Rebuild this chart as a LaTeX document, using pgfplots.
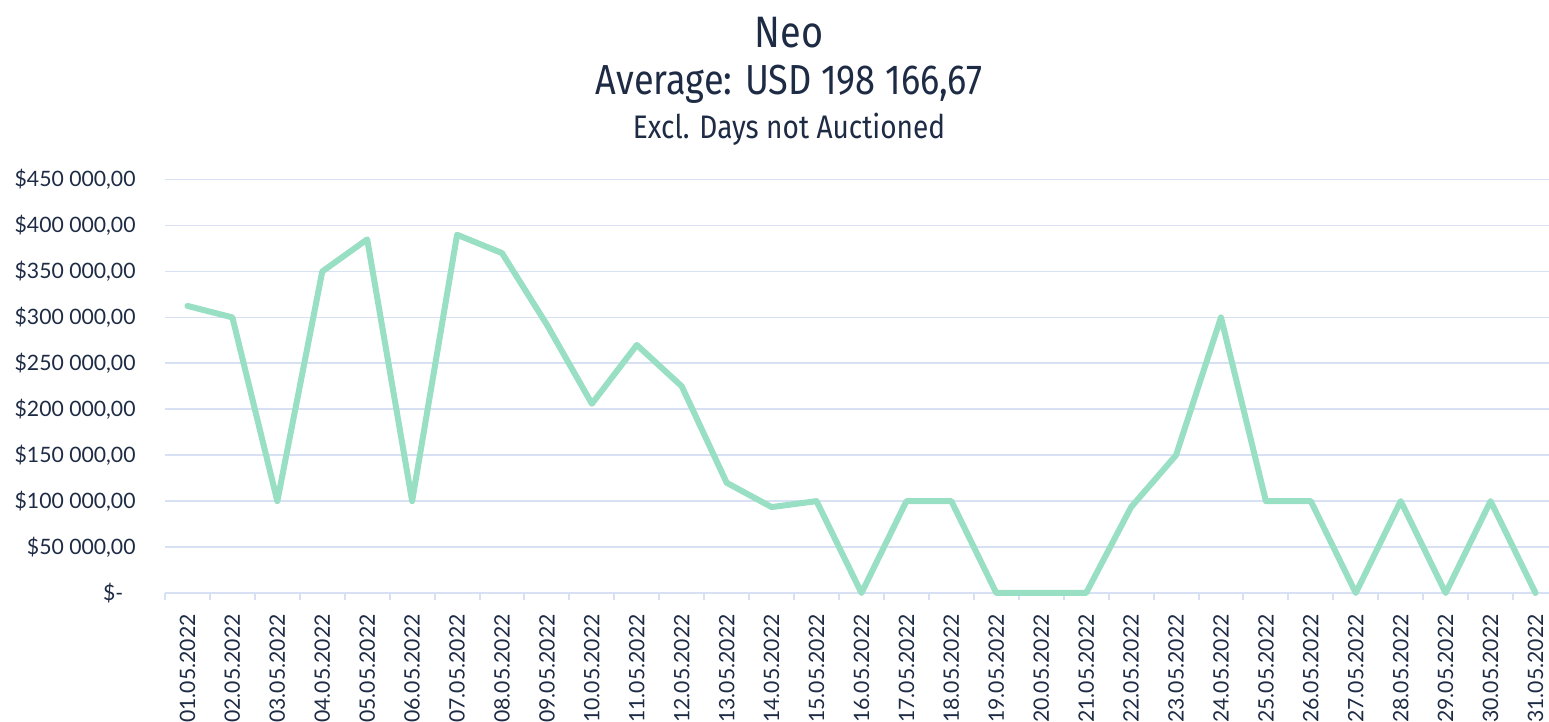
\documentclass[border=0pt]{standalone}
\usepackage{pgfplots}
\pgfplotsset{compat=1.18}
\usepackage{fontspec}
\setmainfont{Lato}
\newfontfamily\titlefont[FakeStretch=0.86]{Fira Sans}
\definecolor{txt}{HTML}{1E2B45}
\definecolor{linec}{HTML}{98DFC3}
\definecolor{gridc}{HTML}{D7E1F3}

\begin{document}
\begin{tikzpicture}
\path[use as bounding box] (-82.5pt,-64.5pt) rectangle (692pt,296.5pt);
\begin{axis}[
  at={(0,0)}, anchor=south west,
  scale only axis, width=692pt, height=206.7pt,
  xmin=0.5, xmax=31.3, ymin=0, ymax=450000,
  scaled y ticks=false,
  axis x line*=bottom, axis y line*=left,
  x axis line style={draw=gridc, line width=1pt, -},
  y axis line style={draw=none},
  xtick={1,...,31},
  xticklabels={01.05.2022,02.05.2022,03.05.2022,04.05.2022,05.05.2022,06.05.2022,07.05.2022,08.05.2022,09.05.2022,10.05.2022,11.05.2022,12.05.2022,13.05.2022,14.05.2022,15.05.2022,16.05.2022,17.05.2022,18.05.2022,19.05.2022,20.05.2022,21.05.2022,22.05.2022,23.05.2022,24.05.2022,25.05.2022,26.05.2022,27.05.2022,28.05.2022,29.05.2022,30.05.2022,31.05.2022},
  minor xtick={0.5,1.5,...,30.5},
  major tick length=0pt, minor tick length=3.5pt,
  xtick align=outside,
  minor x tick style={draw=gridc, line width=1pt},
  ytick={0,50000,...,450000},
  yticklabels={\$-\phantom{0},\$50 000{,}00,\$100 000{,}00,\$150 000{,}00,\$200 000{,}00,\$250 000{,}00,\$300 000{,}00,\$350 000{,}00,\$400 000{,}00,\$450 000{,}00},
  ytick style={draw=none},
  ymajorgrids, grid style={draw=gridc, line width=0.85pt},
  tick label style={text=txt},
  xticklabel style={font=\fontsize{10.6}{12}\selectfont, rotate=90, anchor=east, inner sep=0pt, xshift=-10.5pt},
  yticklabel style={font=\fontsize{10.6}{12}\selectfont, anchor=east, inner sep=0pt, xshift=-14.5pt},
  clip=false,
]
\addplot[linec, line width=3pt, line join=round, line cap=round] coordinates {
  (1,312500)(2,300000)(3,100000)(4,350000)(5,385000)(6,100000)
  (7,390000)(8,370000)(9,292000)(10,206000)(11,270000)(12,225000)
  (13,120000)(14,93500)(15,100000)(16,0)(17,100000)(18,100000)
  (19,0)(20,0)(21,0)(22,93500)(23,150000)(24,300000)
  (25,100000)(26,100000)(27,0)(28,100000)(29,0)(30,100000)(31,0)};
\end{axis}
\node[anchor=base, text=txt, font=\titlefont\fontsize{22}{26}\selectfont] at (312pt,272.5pt) {Neo};
\node[anchor=base, text=txt, font=\titlefont\fontsize{21}{25}\selectfont] at (312pt,249pt) {Average: USD 198 166,67};
\node[anchor=base, text=txt, font=\titlefont\fontsize{16.3}{19}\selectfont] at (312pt,227pt) {Excl. Days not Auctioned};
\end{tikzpicture}
\end{document}
